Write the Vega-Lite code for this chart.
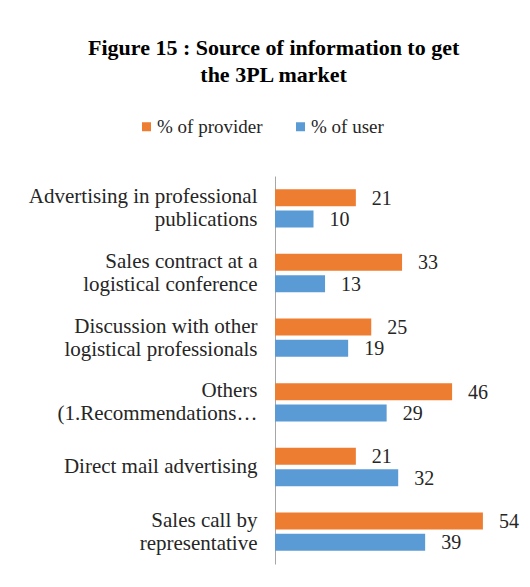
{
  "$schema": "https://vega.github.io/schema/vega-lite/v6.json",
  "autosize": {"type": "none"},
  "width": 231,
  "height": 388,
  "padding": {"left": 275, "top": 176, "right": 24, "bottom": 23},
  "background": "white",
  "title": {
    "text": ["Figure 15 : Source of information to get", "the 3PL market"],
    "font": "Liberation Serif",
    "fontSize": 22,
    "fontWeight": "bold",
    "color": "#000000",
    "anchor": "middle",
    "frame": "bounds",
    "lineHeight": 27,
    "offset": 30
  },
  "config": {"view": {"stroke": null}},
  "data": {
    "values": [
      {"source": "Advertising in professional|publications", "series": "% of provider", "pct": 21},
      {"source": "Advertising in professional|publications", "series": "% of user", "pct": 10},
      {"source": "Sales contract at a|logistical conference", "series": "% of provider", "pct": 33},
      {"source": "Sales contract at a|logistical conference", "series": "% of user", "pct": 13},
      {"source": "Discussion with other|logistical professionals", "series": "% of provider", "pct": 25},
      {"source": "Discussion with other|logistical professionals", "series": "% of user", "pct": 19},
      {"source": "Others|(1.Recommendations…", "series": "% of provider", "pct": 46},
      {"source": "Others|(1.Recommendations…", "series": "% of user", "pct": 29},
      {"source": "Direct mail advertising", "series": "% of provider", "pct": 21},
      {"source": "Direct mail advertising", "series": "% of user", "pct": 32},
      {"source": "Sales call by|representative", "series": "% of provider", "pct": 54},
      {"source": "Sales call by|representative", "series": "% of user", "pct": 39}
    ]
  },
  "encoding": {
    "y": {
      "field": "source",
      "type": "nominal",
      "sort": [
        "Advertising in professional|publications",
        "Sales contract at a|logistical conference",
        "Discussion with other|logistical professionals",
        "Others|(1.Recommendations…",
        "Direct mail advertising",
        "Sales call by|representative"
      ],
      "scale": {"paddingInner": 0.408, "paddingOuter": 0.204},
      "axis": {
        "title": null,
        "ticks": false,
        "tickSize": 0,
        "grid": false,
        "domainColor": "#A6A6A6",
        "domainWidth": 1,
        "labelFont": "Liberation Serif",
        "labelFontSize": 21,
        "labelLineHeight": 23,
        "labelColor": "#262626",
        "labelAlign": "right",
        "labelBaseline": {
          "condition": {"test": "indexof(datum.value, '|') >= 0", "value": "line-bottom"},
          "value": "middle"
        },
        "labelPadding": 18,
        "labelLimit": 400,
        "labelExpr": "split(datum.label, '|')"
      }
    },
    "yOffset": {
      "field": "series",
      "type": "nominal",
      "sort": ["% of provider", "% of user"],
      "scale": {"paddingInner": 0.2, "paddingOuter": 0}
    },
    "x": {
      "field": "pct",
      "type": "quantitative",
      "scale": {"domain": [0, 60]},
      "axis": null
    }
  },
  "layer": [
    {
      "mark": {"type": "bar"},
      "encoding": {
        "color": {
          "field": "series",
          "type": "nominal",
          "sort": ["% of provider", "% of user"],
          "scale": {"domain": ["% of provider", "% of user"], "range": ["#ED7D31", "#5B9BD5"]},
          "legend": {
            "title": null,
            "orient": "none",
            "direction": "horizontal",
            "legendX": -138,
            "legendY": -59,
            "padding": 0,
            "symbolType": "square",
            "symbolSize": 81,
            "symbolStrokeWidth": 0,
            "labelFont": "Liberation Serif",
            "labelFontSize": 19,
            "labelColor": "#262626",
            "labelOffset": 1,
            "columnPadding": 28
          }
        }
      }
    },
    {
      "mark": {
        "type": "text",
        "align": "left",
        "baseline": "middle",
        "dx": 16,
        "dy": 1,
        "font": "Liberation Serif",
        "fontSize": 20,
        "color": "#262626"
      },
      "encoding": {
        "text": {"field": "pct", "type": "quantitative"}
      }
    }
  ]
}
